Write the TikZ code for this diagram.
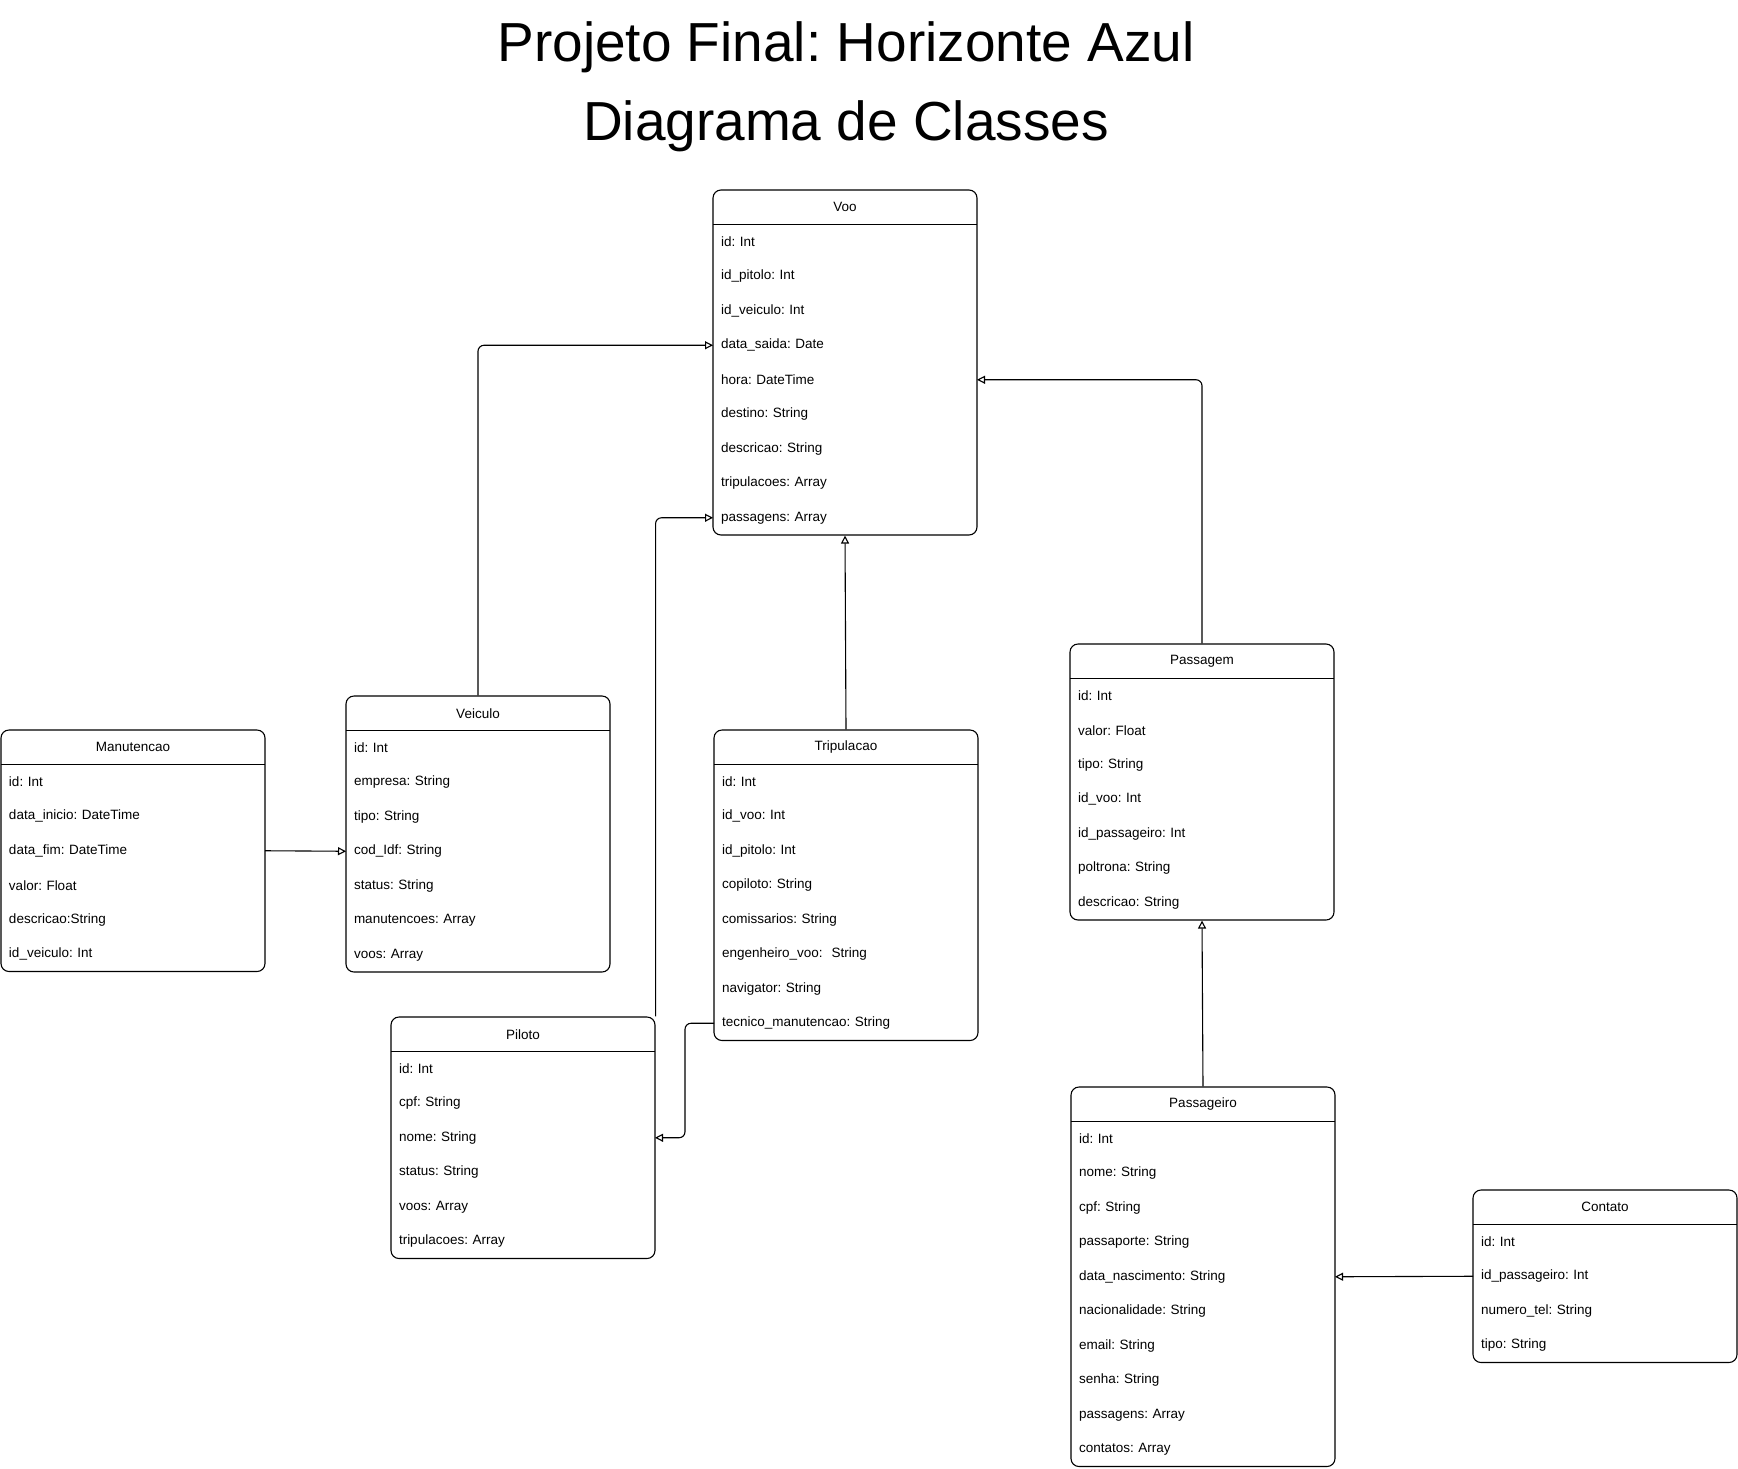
\documentclass[tikz,border=0pt]{standalone}
\usepackage{fontspec}
\setmainfont{Liberation Sans}
\usepackage{tikz}
\usetikzlibrary{positioning, fit, arrows.meta}
\frenchspacing
\tikzset{
    classbox/.style={
        draw, rounded corners=8pt, line width=1.1pt, inner sep=0pt
    },
    classhead/.style={
        minimum width=264pt, minimum height=34.5pt, inner sep=0pt, outer sep=0pt,
        font=\fontsize{13.5}{16}\selectfont
    },
    classrow/.style={
        text width=248pt, inner xsep=8pt, inner ysep=0pt, outer sep=0pt, minimum height=34.5pt,
        align=left, font=\fontsize{13.5}{16}\selectfont
    },
    assoc/.style={
        -{Triangle[open, length=8pt, width=8pt]}, line width=1.1pt, rounded corners=6pt
    },
    titletext/.style={
        font=\fontsize{55}{60}\selectfont, anchor=base
    }
}
\newcommand{\umlclass}[4]{%
    \node[classhead, anchor=north west] (#1-h) at #2 {#3};
    \foreach \attr [count=\i, remember=\i as \j (initially h)] in {#4} {
        \node[classrow, below=0pt of #1-\j] (#1-\i) {\attr};
        \xdef\lastrow{\i}
    }
    \node[classbox, fit=(#1-h) (#1-\lastrow)] (#1) {};
    \draw[line width=1.1pt] (#1-h.south west) -- (#1-h.south east);
}

\begin{document}
\begin{tikzpicture}[x=1pt, y=-1pt]
    \useasboundingbox (0,0) rectangle (1738,1468);
    \node[titletext] (title1) at (846,61) {Projeto Final: Horizonte Azul};
    \node[titletext] (title2) at (846,140) {Diagrama de Classes};

    \umlclass{voo}{(713,190)}{Voo}{id: Int, id\_pitolo: Int, id\_veiculo: Int, data\_saida: Date, hora: DateTime, destino: String, descricao: String, tripulacoes: Array, passagens: Array}
    \umlclass{veiculo}{(346,696)}{Veiculo}{id: Int, empresa: String, tipo: String, cod\_Idf: String, status: String, manutencoes: Array, voos: Array}
    \umlclass{manutencao}{(1,730)}{Manutencao}{id: Int, data\_inicio: DateTime, data\_fim: DateTime, valor: Float, descricao:String, id\_veiculo: Int}
    \umlclass{tripulacao}{(714,730)}{Tripulacao}{id: Int, id\_voo: Int, id\_pitolo: Int, copiloto: String, comissarios: String, engenheiro\_voo: \ String, navigator: String, tecnico\_manutencao: String}
    \umlclass{passagem}{(1070,644)}{Passagem}{id: Int, valor: Float, tipo: String, id\_voo: Int, id\_passageiro: Int, poltrona: String, descricao: String}
    \umlclass{piloto}{(391,1017)}{Piloto}{id: Int, cpf: String, nome: String, status: String, voos: Array, tripulacoes: Array}
    \umlclass{passageiro}{(1071,1087)}{Passageiro}{id: Int, nome: String, cpf: String, passaporte: String, data\_nascimento: String, nacionalidade: String, email: String, senha: String, passagens: Array, contatos: Array}
    \umlclass{contato}{(1473,1190)}{Contato}{id: Int, id\_passageiro: Int, numero\_tel: String, tipo: String}

    \draw[assoc] (veiculo.north) |- (voo-4.west);
    \draw[assoc] (piloto.north east) |- (voo-9.west);
    \draw[assoc] (tripulacao.north) -- (voo.south);
    \draw[assoc] (passagem.north) |- (voo-5.east);
    \draw[assoc] (manutencao-3.east) -- (veiculo-4.west);
    \draw[assoc] (tripulacao-8.west) -- ++(-29,0) |- (piloto-3.east);
    \draw[assoc] (passageiro.north) -- (passagem.south);
    \draw[assoc] (contato-2.west) -- (passageiro-5.east);
\end{tikzpicture}
\end{document}
